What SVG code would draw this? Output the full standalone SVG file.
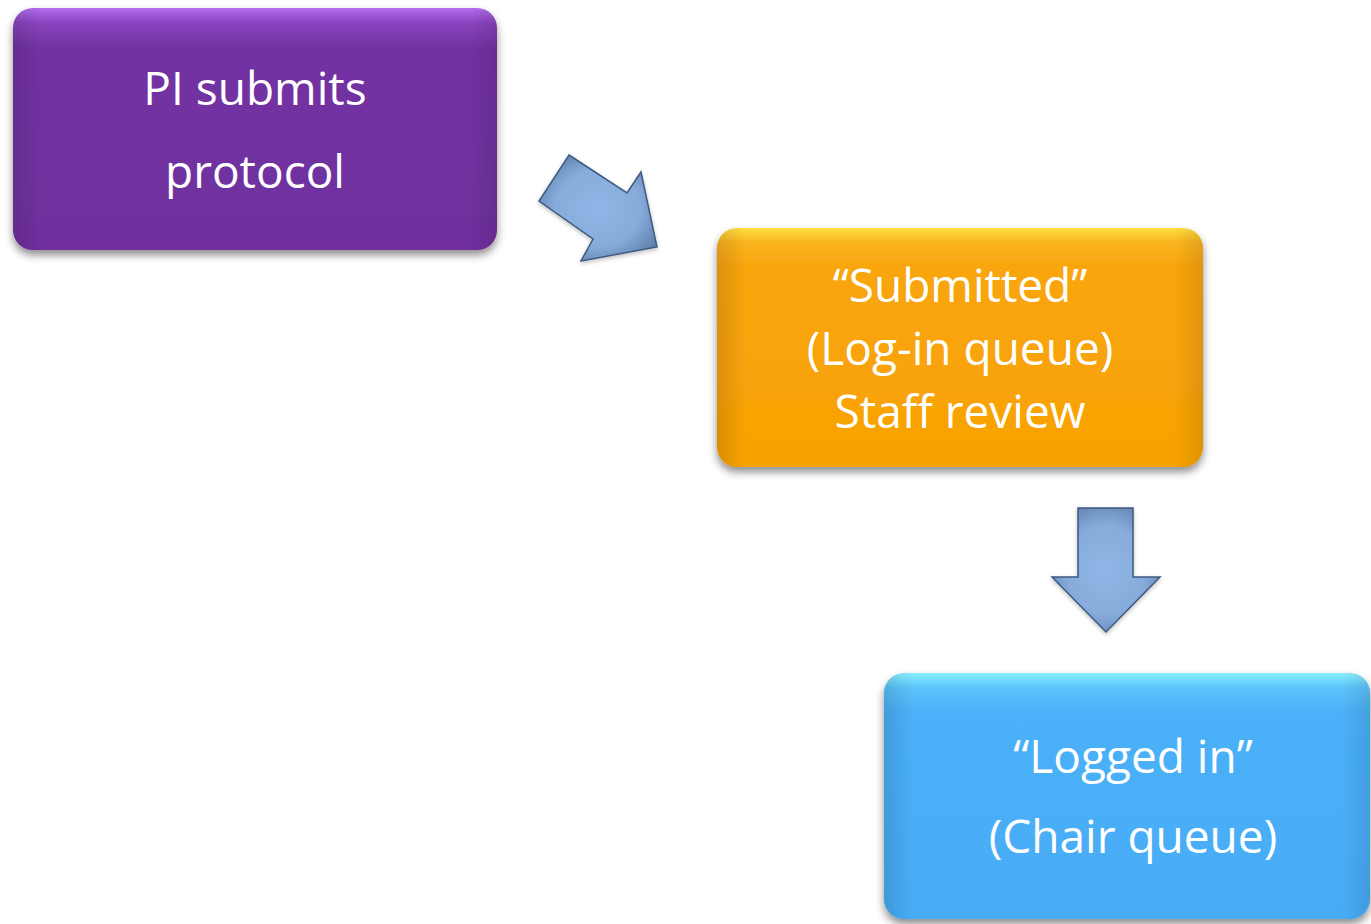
<svg xmlns="http://www.w3.org/2000/svg" width="1371" height="924" viewBox="0 0 1371 924">
<defs>
<style>
.lbl{font-family:"Open Sans","Liberation Sans",sans-serif;font-size:46px;fill:#ffffff;text-anchor:middle}
.arrow{fill:url(#arrowGrad);stroke:#3e5a80;stroke-width:1.5;stroke-linejoin:miter}
</style>
<filter id="shadow" x="-10%" y="-10%" width="120%" height="130%">
<feDropShadow dx="0" dy="5" stdDeviation="4" flood-color="#000" flood-opacity="0.45"/>
</filter>
<filter id="ashadow" x="-20%" y="-20%" width="140%" height="140%">
<feDropShadow dx="0" dy="2" stdDeviation="2" flood-color="#000" flood-opacity="0.25"/>
</filter>
<linearGradient id="gPurple" x1="0" y1="0" x2="0" y2="1">
<stop offset="0" stop-color="#b46ef0"/>
<stop offset="0.06" stop-color="#8a45c0"/>
<stop offset="0.16" stop-color="#7333a3"/>
<stop offset="1" stop-color="#6f2f9e"/>
</linearGradient>
<linearGradient id="gOrange" x1="0" y1="0" x2="0" y2="1">
<stop offset="0" stop-color="#ffe040"/>
<stop offset="0.06" stop-color="#fbb420"/>
<stop offset="0.16" stop-color="#f9a50e"/>
<stop offset="1" stop-color="#f8a203"/>
</linearGradient>
<linearGradient id="gBlue" x1="0" y1="0" x2="0" y2="1">
<stop offset="0" stop-color="#8af0ff"/>
<stop offset="0.06" stop-color="#5cc4fa"/>
<stop offset="0.16" stop-color="#4bb1f8"/>
<stop offset="1" stop-color="#47acf6"/>
</linearGradient>
<linearGradient id="edgeL" x1="0" y1="0" x2="1" y2="0">
<stop offset="0" stop-color="#000" stop-opacity="0.12"/>
<stop offset="0.06" stop-color="#000" stop-opacity="0"/>
<stop offset="0.94" stop-color="#000" stop-opacity="0"/>
<stop offset="1" stop-color="#000" stop-opacity="0.1"/>
</linearGradient>
<radialGradient id="arrowGrad" cx="0.5" cy="0.5" r="0.6">
<stop offset="0" stop-color="#8fb6e6"/>
<stop offset="0.6" stop-color="#87acdc"/>
<stop offset="1" stop-color="#5d7eaa"/>
</radialGradient>
</defs>
<rect width="1371" height="924" fill="#ffffff"/>

<g id="connectors">
<polygon class="arrow" filter="url(#ashadow)" points="569,155 627,193 641,172 657,247 581,261 593,239 539,201"/>
<polygon class="arrow" filter="url(#ashadow)" points="1078,508 1133,508 1133,577 1160,577 1106,632 1052,577 1078,577"/>
</g>

<g id="node-pi">
<rect x="13" y="8" width="484" height="242" rx="20" fill="url(#gPurple)" filter="url(#shadow)"/>
<rect x="13" y="8" width="484" height="242" rx="20" fill="url(#edgeL)"/>
<text class="lbl" x="255" y="105">PI submits</text>
<text class="lbl" x="255" y="188">protocol</text>
</g>

<g id="node-submitted">
<rect x="717" y="228" width="486" height="239" rx="20" fill="url(#gOrange)" filter="url(#shadow)"/>
<rect x="717" y="228" width="486" height="239" rx="20" fill="url(#edgeL)"/>
<text class="lbl" x="960" y="302">“Submitted”</text>
<text class="lbl" x="960" y="365">(Log-in queue)</text>
<text class="lbl" x="960" y="428">Staff review</text>
</g>

<g id="node-logged">
<rect x="884" y="673" width="486" height="246" rx="20" fill="url(#gBlue)" filter="url(#shadow)"/>
<rect x="884" y="673" width="486" height="246" rx="20" fill="url(#edgeL)"/>
<text class="lbl" x="1133" y="773">“Logged in”</text>
<text class="lbl" x="1133" y="853">(Chair queue)</text>
</g>
</svg>
